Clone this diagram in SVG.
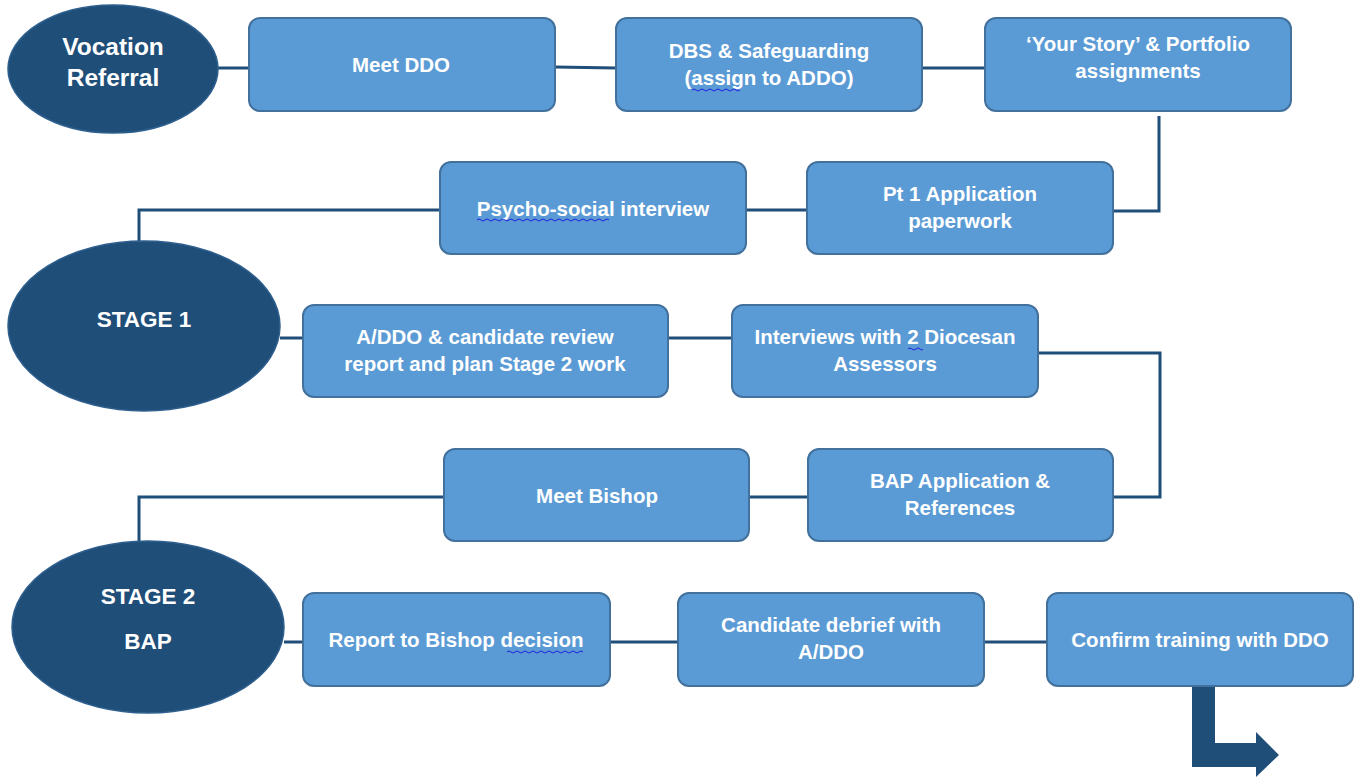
<svg xmlns="http://www.w3.org/2000/svg" width="1357" height="778" viewBox="0 0 1357 778">
<style>
.box{fill:#5B9BD5;stroke:#41719C;stroke-width:2}
.ell{fill:#1F4E79;stroke:#2E5F8E;stroke-width:1.5}
.t{font-family:"Liberation Sans",Arial,sans-serif;font-weight:bold;font-size:20.5px;fill:#fff;text-anchor:middle}
.te{font-family:"Liberation Sans",Arial,sans-serif;font-weight:bold;font-size:24.5px;fill:#fff;text-anchor:middle}
.ts{font-size:22.5px}
.c{fill:none;stroke:#1F4E79;stroke-width:3}
.sq{fill:none;stroke:#2222DD;stroke-width:1}
</style>
<rect width="1357" height="778" fill="#fff"/>
<g id="connectors">
<path class="c" d="M218 68H249"/>
<path class="c" d="M555 67L616 68"/>
<path class="c" d="M922 68H985"/>
<path class="c" d="M1159 116V211H1113"/>
<path class="c" d="M746 210H807"/>
<path class="c" d="M440 210H139V241"/>
<path class="c" d="M280 338H303"/>
<path class="c" d="M668 338H732"/>
<path class="c" d="M1038 353H1160V497H1113"/>
<path class="c" d="M749 497H808"/>
<path class="c" d="M444 497H139V542"/>
<path class="c" d="M284 642H303"/>
<path class="c" d="M610 642H678"/>
<path class="c" d="M984 642H1047"/>
<polygon fill="#1F4E79" points="1192,686 1215,686 1215,743 1256,743 1256,732 1279,755 1256,777 1256,767 1192,767"/>
</g>
<g id="vocation"><ellipse class="ell" cx="113" cy="69" rx="105" ry="64"/><text class="te" x="113" y="55">Vocation</text><text class="te" x="113" y="86">Referral</text></g>
<g id="meet-ddo"><rect class="box" x="249" y="18" width="306" height="93" rx="11"/><text class="t" x="401" y="72">Meet DDO</text></g>
<g id="dbs"><rect class="box" x="616" y="18" width="306" height="93" rx="11"/><text class="t" x="769" y="58">DBS &amp; Safeguarding</text><text class="t" x="769" y="85">(assign to ADDO)</text><path class="sq" d="M692 90q2 -2 4 0t4 0t4 0t4 0t4 0t4 0t4 0t4 0t4 0t4 0t4 0t4 0"/></g>
<g id="your-story"><rect class="box" x="985" y="18" width="306" height="93" rx="11"/><text class="t" x="1138" y="51">‘Your Story’ &amp; Portfolio</text><text class="t" x="1138" y="78">assignments</text></g>
<g id="pt1"><rect class="box" x="807" y="162" width="306" height="92" rx="11"/><text class="t" x="960" y="201">Pt 1 Application</text><text class="t" x="960" y="228">paperwork</text></g>
<g id="psycho"><rect class="box" x="440" y="162" width="306" height="92" rx="11"/><text class="t" x="593" y="216">Psycho-social interview</text><path class="sq" d="M477 220q2 -2 4 0t4 0t4 0t4 0t4 0t4 0t4 0t4 0t4 0t4 0t4 0t4 0t4 0t4 0t4 0t4 0t4 0t4 0t4 0t4 0t4 0t4 0t4 0t4 0t4 0t4 0t4 0t4 0t4 0t4 0t4 0t4 0t4 0"/></g>
<g id="stage1"><ellipse class="ell" cx="144" cy="326" rx="136" ry="85"/><text class="te ts" x="144" y="327">STAGE 1</text></g>
<g id="review"><rect class="box" x="303" y="305" width="365" height="92" rx="11"/><text class="t" x="485" y="344">A/DDO &amp; candidate review</text><text class="t" x="485" y="371">report and plan Stage 2 work</text></g>
<g id="interviews"><rect class="box" x="732" y="305" width="306" height="92" rx="11"/><text class="t" x="885" y="344">Interviews with 2 Diocesan</text><text class="t" x="885" y="371">Assessors</text><path class="sq" d="M908 349q2 -2 4 0t4 0t4 0t3 0"/></g>
<g id="bap-app"><rect class="box" x="808" y="449" width="305" height="92" rx="11"/><text class="t" x="960" y="488">BAP Application &amp;</text><text class="t" x="960" y="515">References</text></g>
<g id="meet-bishop"><rect class="box" x="444" y="449" width="305" height="92" rx="11"/><text class="t" x="597" y="503">Meet Bishop</text></g>
<g id="stage2"><ellipse class="ell" cx="148" cy="627" rx="136" ry="86"/><text class="te ts" x="148" y="604">STAGE 2</text><text class="te ts" x="148" y="649">BAP</text></g>
<g id="report"><rect class="box" x="303" y="593" width="307" height="93" rx="11"/><text class="t" x="456" y="647">Report to Bishop decision</text><path class="sq" d="M507 652q2 -2 4 0t4 0t4 0t4 0t4 0t4 0t4 0t4 0t4 0t4 0t4 0t4 0t4 0t4 0t4 0t4 0t4 0t4 0t4 0"/></g>
<g id="debrief"><rect class="box" x="678" y="593" width="306" height="93" rx="11"/><text class="t" x="831" y="632">Candidate debrief with</text><text class="t" x="831" y="659">A/DDO</text></g>
<g id="confirm"><rect class="box" x="1047" y="593" width="306" height="93" rx="11"/><text class="t" x="1200" y="647">Confirm training with DDO</text></g>
</svg>
